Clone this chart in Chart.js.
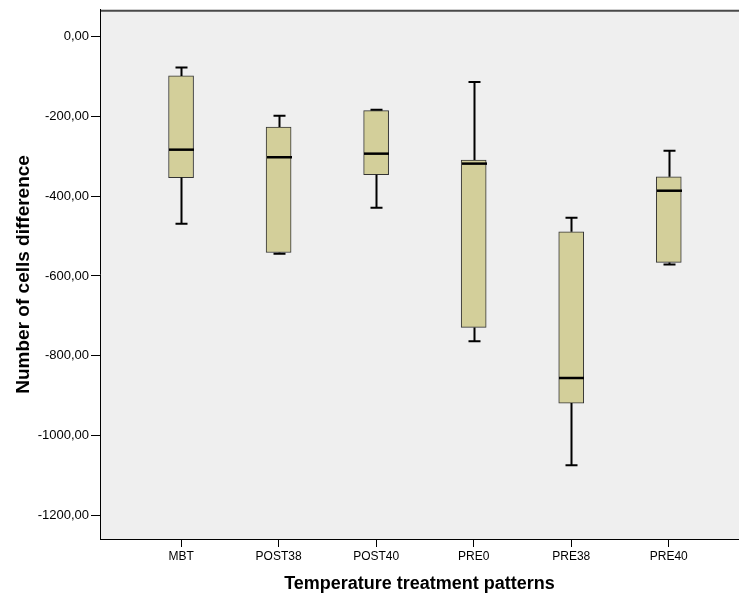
<!DOCTYPE html>
<html>
<head>
<meta charset="utf-8">
<script src="https://cdn.jsdelivr.net/npm/chart.js@4"></script>
<style>
    body { margin: 0; background: #fff; }
    #wrap { width: 739px; height: 598px; }
</style>
</head>
<body>
<div id="wrap"><canvas id="boxChart" width="739" height="598"></canvas></div>
<script>
// ---------- data ----------
const categories = ['MBT', 'POST38', 'POST40', 'PRE0', 'PRE38', 'PRE40'];
const whiskerMax = [-77, -198, -183, -113, -454, -286];
const q3Values   = [-98, -226, -185, -309, -489, -351];
const medians    = [-283, -302, -293, -318, -856, -386];
const q1Values   = [-353, -541, -346, -729, -919, -566];
const whiskerMin = [-469, -544, -429, -764, -1075, -571];
const yTicks = [0, -200, -400, -600, -800, -1000, -1200];

const FONT = "'Liberation Sans', Arial, sans-serif";

// grey plot panel + dark top edge
const panelPlugin = {
    id: 'panel',
    beforeDraw(chart) {
        const { ctx, chartArea: a } = chart;
        ctx.save();
        ctx.fillStyle = '#efefef';
        ctx.fillRect(a.left, a.top, a.right - a.left, a.bottom - a.top);
        ctx.strokeStyle = '#4a4a4a';
        ctx.lineWidth = 2;
        ctx.beginPath();
        ctx.moveTo(a.left, a.top + 1);
        ctx.lineTo(a.right, a.top + 1);
        ctx.stroke();
        ctx.restore();
    }
};

// whiskers, caps and median line, placed with the chart's scales
const whiskerPlugin = {
    id: 'whiskers',
    afterDatasetsDraw(chart) {
        const { ctx, scales: { x, y } } = chart;
        ctx.save();
        ctx.strokeStyle = '#000';
        categories.forEach((c, i) => {
            const cx = Math.round(x.getPixelForValue(i)) + 0.5;
            const capHalf = 6;
            const boxHalf = 12.5;
            ctx.lineWidth = 2;
            // upper whisker
            ctx.beginPath();
            ctx.moveTo(cx, y.getPixelForValue(q3Values[i]));
            ctx.lineTo(cx, y.getPixelForValue(whiskerMax[i]));
            ctx.moveTo(cx - capHalf, y.getPixelForValue(whiskerMax[i]));
            ctx.lineTo(cx + capHalf, y.getPixelForValue(whiskerMax[i]));
            // lower whisker
            ctx.moveTo(cx, y.getPixelForValue(q1Values[i]));
            ctx.lineTo(cx, y.getPixelForValue(whiskerMin[i]));
            ctx.moveTo(cx - capHalf, y.getPixelForValue(whiskerMin[i]));
            ctx.lineTo(cx + capHalf, y.getPixelForValue(whiskerMin[i]));
            ctx.stroke();
            // median
            ctx.lineWidth = 2.5;
            ctx.beginPath();
            ctx.moveTo(cx - boxHalf, y.getPixelForValue(medians[i]));
            ctx.lineTo(cx + boxHalf, y.getPixelForValue(medians[i]));
            ctx.stroke();
        });
        ctx.restore();
    }
};

const boxData = categories.map((c, i) => ({ x: i, y: [q1Values[i], q3Values[i]] }));

new Chart(document.getElementById('boxChart'), {
    type: 'bar',
    data: {
        datasets: [{
            data: boxData,
            backgroundColor: '#d3cf9a',
            borderColor: '#333',
            borderWidth: 1,
            borderSkipped: false,
            barThickness: 25
        }]
    },
    options: {
        responsive: false,
        animation: false,
        layout: { padding: { top: 9, right: 0, left: 0, bottom: 0 } },
        plugins: {
            legend: { display: false },
            tooltip: { enabled: false }
        },
        scales: {
            x: {
                type: 'linear',
                offset: false,
                min: -0.831,
                max: 5.72,
                afterBuildTicks: s => { s.ticks = categories.map((c, i) => ({ value: i })); },
                afterFit: s => { s.height = 59; },
                grid: { offset: false, drawOnChartArea: false, drawTicks: true, tickLength: 8, color: '#000' },
                border: { display: true, color: '#000', width: 1 },
                ticks: {
                    color: '#000',
                    padding: 2,
                    maxRotation: 0,
                    font: { family: FONT, size: 12 },
                    callback: v => categories[v]
                },
                title: {
                    display: true,
                    text: 'Temperature treatment patterns',
                    color: '#000',
                    font: { family: FONT, size: 18, weight: 'bold' },
                    padding: { top: 0, bottom: 3 }
                }
            },
            y: {
                min: -1260,
                max: 68,
                afterBuildTicks: s => { s.ticks = yTicks.map(v => ({ value: v })); },
                afterFit: s => { s.width = 100; },
                grid: { drawOnChartArea: false, drawTicks: true, tickLength: 9, color: '#000' },
                border: { display: true, color: '#000', width: 1 },
                ticks: {
                    color: '#000',
                    padding: 2,
                    font: { family: FONT, size: 13 },
                    callback: v => v.toFixed(2).replace('.', ',')
                },
                title: {
                    display: true,
                    text: 'Number of cells difference',
                    color: '#000',
                    font: { family: FONT, size: 19, weight: 'bold' },
                    padding: { top: 12, bottom: 0 }
                }
            }
        }
    },
    plugins: [panelPlugin, whiskerPlugin]
});
</script>
</body>
</html>
